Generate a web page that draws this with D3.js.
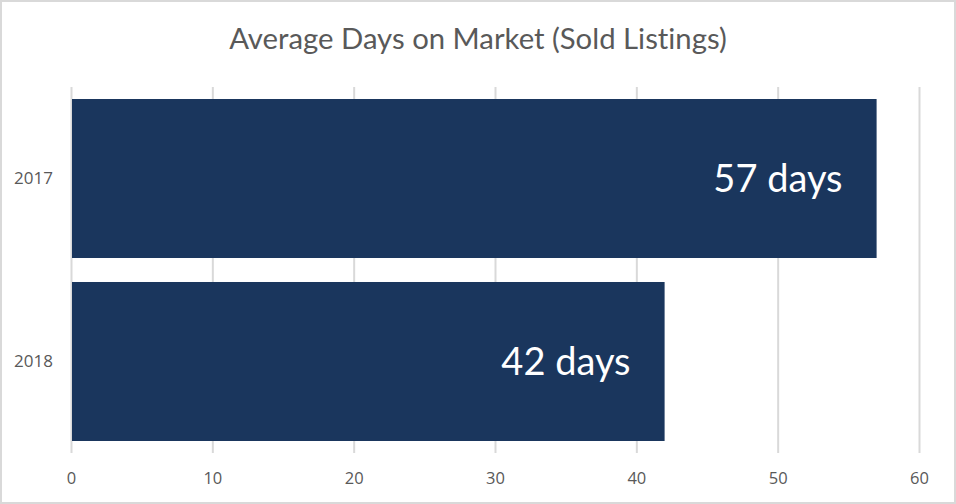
<!DOCTYPE html>
<html>
<head>
<meta charset="utf-8">
<script src="https://cdn.jsdelivr.net/npm/d3@7"></script>
<style>
  html, body { margin: 0; padding: 0; background: #fff; }
  svg { display: block; }
  text { font-variant-ligatures: none; }
</style>
</head>
<body>
<script>
const title = "Average Days on Market (Sold Listings)";
const categories = ["2017", "2018"];
const values = [57, 42];
const labels = ["57 days", "42 days"];
const xTicks = [0, 10, 20, 30, 40, 50, 60];

const W = 956, H = 504;
const svg = d3.select("body").append("svg").attr("width", W).attr("height", H);

svg.append("rect").attr("x", 1).attr("y", 1).attr("width", W - 2).attr("height", H - 2)
  .attr("fill", "#fff").attr("stroke", "#d9d9d9").attr("stroke-width", 2);

const x = d3.scaleLinear().domain([0, 60]).range([71, 919]);
const y = d3.scaleBand().domain(categories).range([87, 453]).paddingInner(0.1311).paddingOuter(0.0656);

// gridlines
svg.append("g").selectAll("line").data(xTicks).join("line")
  .attr("x1", d => x(d) + 0.5).attr("x2", d => x(d) + 0.5)
  .attr("y1", 87).attr("y2", 453)
  .attr("stroke", "#d9d9d9").attr("stroke-width", 2);

// bars
svg.append("g").selectAll("rect").data(values).join("rect")
  .attr("x", x(0) + 1)
  .attr("y", (d, i) => y(categories[i]))
  .attr("width", d => x(d) - x(0) - 1)
  .attr("height", y.bandwidth())
  .attr("fill", "#1a365d");

// value labels
svg.append("g").selectAll("text").data(values).join("text")
  .attr("x", d => x(d) - 34)
  .attr("y", (d, i) => y(categories[i]) + y.bandwidth() / 2)
  .attr("dy", "0.36em")
  .attr("text-anchor", "end")
  .attr("fill", "#ffffff")
  .style("font-family", "Lato, sans-serif")
  .style("font-size", "38px")
  .text((d, i) => labels[i]);

// x axis
const xAxis = d3.axisBottom(x).tickValues(xTicks).tickSize(0).tickPadding(0);
const gx = svg.append("g").attr("transform", "translate(0,478)").call(xAxis);
gx.select(".domain").remove();
gx.selectAll("text").attr("dy", "0.36em").attr("y", 0)
  .attr("fill", "#595959")
  .style("font-family", "'Open Sans', sans-serif").style("font-size", "16.5px");

// y axis
const yAxis = d3.axisLeft(y).tickSize(0).tickPadding(18);
const gy = svg.append("g").attr("transform", "translate(71,0)").call(yAxis);
gy.select(".domain").remove();
gy.selectAll("text").attr("fill", "#595959")
  .style("font-family", "'Open Sans', sans-serif").style("font-size", "17px");

// title
svg.append("text").attr("x", 478).attr("y", 49).attr("text-anchor", "middle")
  .attr("fill", "#595959")
  .style("font-family", "Lato, sans-serif").style("font-size", "29.3px")
  .text(title);
</script>
</body>
</html>
